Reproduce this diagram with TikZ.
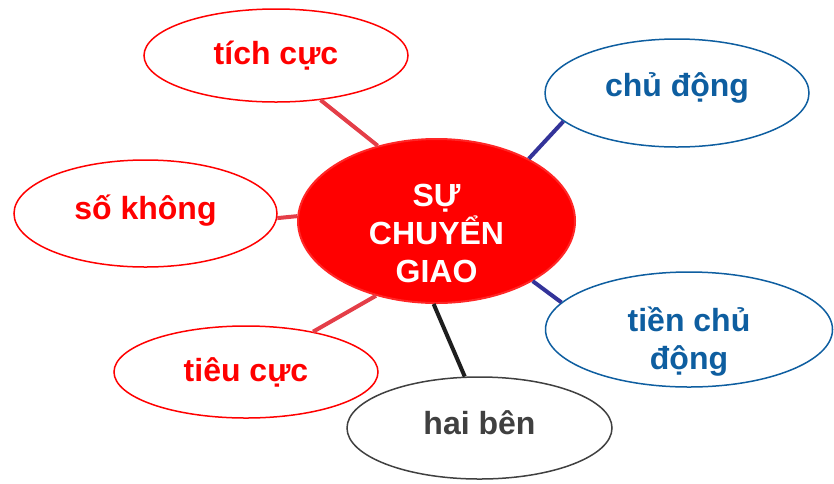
\documentclass[tikz,border=0pt]{standalone}
\usepackage{fontspec}
\setmainfont{Liberation Sans}
\usetikzlibrary{shapes.geometric}
\definecolor{hubred}{RGB}{255,0,0}
\definecolor{linkred}{RGB}{228,62,72}
\definecolor{leafblue}{RGB}{14,94,160}
\definecolor{linkblue}{RGB}{51,51,153}
\definecolor{leafgrey}{RGB}{64,64,64}
\definecolor{linkgrey}{RGB}{30,30,30}
\tikzset{
    bigfont/.style = {font=\fontsize{32}{38}\selectfont\bfseries},
    leaf/.style = {draw, ellipse, inner sep=0pt, align=center,
        line width=1.5pt, fill=white, bigfont},
    redleaf/.style = {leaf, draw=hubred, text=hubred},
    blueleaf/.style = {leaf, draw=leafblue, text=leafblue},
    greyleaf/.style = {leaf, draw=leafgrey, text=leafgrey},
    hub/.style = {ellipse, inner sep=0pt,
        fill=hubred, draw=hubred!85!white, line width=2pt},
    words/.style = {inner sep=0pt, align=center, bigfont},
    link/.style = {draw, line width=4pt}
}

\begin{document}
\begin{tikzpicture}[x=1pt, y=-1pt]
        \useasboundingbox (0,0) rectangle (834,483);
        \node [hub, minimum width=277pt, minimum height=164pt,
            label={[words, text=white, yshift=-12pt, name=hubtext]center:{SỰ\\CHUYỂN\\GIAO}}] (hub) at (436.5,221) {};
        % red side
        \node [redleaf, minimum width=264pt, minimum height=93pt] (tichcuc) at (276,55.5) {tích cực};
        \node [redleaf, minimum width=263pt, minimum height=107pt, text depth=13pt] (sokhong) at (145.5,213.5) {số không};
        \node [redleaf, minimum width=264pt, minimum height=92pt] (tieucuc) at (246,372) {tiêu cực};
        % blue side
        \node [blueleaf, minimum width=264pt, minimum height=108pt, text depth=17pt] (chudong) at (677,93) {chủ động};
        \node [blueleaf, minimum width=287pt, minimum height=115pt,
            label={[words, text=leafblue, yshift=-12pt, name=tienchutext]center:{tiền chủ\\động}}] (tienchudong) at (689,329.5) {};
        \node [greyleaf, minimum width=265pt, minimum height=102pt, text depth=10pt] (haiben) at (479.5,428) {hai bên};
        \draw [link, linkred] (tichcuc.-45) -- (hub.128);
        \draw [link, linkred] (sokhong.-2) -- (hub.178);
        \draw [link, linkred] (tieucuc.31) -- (hub.231);
        \draw [link, linkblue] (chudong.194) -- (hub.34);
        \draw [link, linkblue] (tienchudong.168) -- (hub.-32);
        \draw [link, linkgrey] (haiben.106) -- (hub.268);
\end{tikzpicture}
\end{document}
